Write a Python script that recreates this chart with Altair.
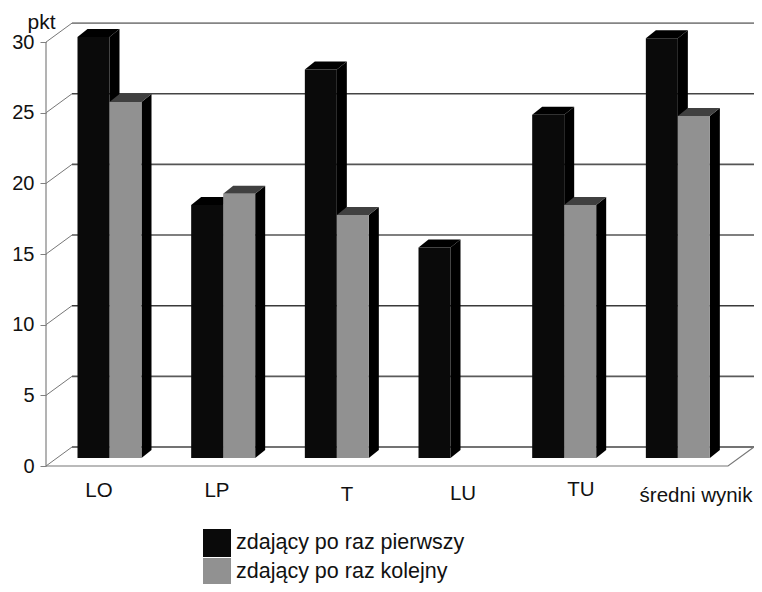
import altair as alt
import pandas as pd

categories = ["LO", "LP", "T", "LU", "TU", "średni wynik"]
first_time = [29.8, 17.9, 27.5, 14.9, 24.3, 29.7]
next_time = [25.2, 18.7, 17.2, None, 17.9, 24.2]
y_ticks = [0, 5, 10, 15, 20, 25, 30]
series_names = ["zdający po raz pierwszy", "zdający po raz kolejny"]

# projection of the pseudo-3D scene, in data units
PX_X, PX_Y = 113.67, 14.13          # pixels per category / per point
X0, Y0 = 46, 466                    # page position of the front corner
PAD_L = X0 - 8
W, H = 746 - PAD_L, 576             # plot area; padding + width fills the page
BAR_W = 32 / PX_X
BAR_DX, BAR_DY = 10 / PX_X, 8 / PX_Y
WALL_DX, WALL_DY = 26 / PX_X, 19 / PX_Y
GROUP_C = 63.5 / PX_X
x_scale = alt.Scale(domain=[0, W / PX_X], nice=False, zero=False)
y_scale = alt.Scale(domain=[(Y0 - 8 - H) / PX_Y, (Y0 - 8) / PX_Y], nice=False, zero=False)
y_axis = alt.Axis(
    values=y_ticks, domain=False, grid=False, tickSize=6, tickColor="#808080",
    labelFont="Liberation Sans", labelFontSize=20, labelColor="#111111", labelPadding=6,
    title="pkt", titleAngle=0, titleX=-5, titleY=14, titleAlign="center", titleBaseline="middle",
    titleFont="Liberation Sans", titleFontSize=21, titleFontWeight="normal", titleColor="#111111")

X = lambda f: alt.X(f, type="quantitative", scale=x_scale, axis=None)
Y = lambda f: alt.Y(f, type="quantitative", scale=y_scale, axis=y_axis)

fronts, sides, tops = [], [], []
for s, (name, vals) in enumerate(zip(series_names, [first_time, next_time])):
    for i, v in enumerate(vals):
        if v is None:
            continue
        x1 = i + GROUP_C + (s - 1) * BAR_W
        x2 = x1 + BAR_W
        base, top = BAR_DY, v + BAR_DY
        key = f"{s}-{i}"
        fronts.append(dict(series=name, x1=x1, x2=x2, y1=base, y2=top, s=s))
        sides += [
            dict(key=key, s=s, x=x2, y=top, y2=base),
            dict(key=key, s=s, x=x2 + BAR_DX, y=top + BAR_DY, y2=base + BAR_DY),
        ]
        tops += [
            dict(key=key, s=s, y=top, x=x1, x2=x2),
            dict(key=key, s=s, y=top + BAR_DY, x=x1 + BAR_DX, x2=x2 + BAR_DX),
        ]
fronts, sides, tops = pd.DataFrame(fronts), pd.DataFrame(sides), pd.DataFrame(tops)

grid = pd.DataFrame({"v": y_ticks})
grid["yb"] = grid.v + WALL_DY
grid["xa"] = WALL_DX
grid["xb"] = 6 + WALL_DX
grid["x0"] = 0.0
grid["col"] = ["#444444", "#5a5a5a", "#3a3a3a", "#555555", "#555555", "#444444", "#858585"]

front_axis = alt.Chart(grid).mark_rule(strokeWidth=1, color="#777777").encode(
    x=X("x0"), x2="xa", y=Y("v"), y2="yb")
back = alt.Chart(grid).mark_rule(strokeWidth=1.6).encode(
    x=X("xa"), x2="xb", y=Y("yb"), color=alt.Color("col:N", scale=None))

axis_line = alt.Chart(pd.DataFrame({"x": [0.0], "a": [0], "b": [30]})).mark_rule(
    color="#808080", strokeWidth=1.2).encode(x=X("x"), y=Y("a"), y2="b")
floor = pd.DataFrame({"x": [0.0, 6.0, 6 + WALL_DX], "y": [0.0, 0.0, WALL_DY]})
floor_line = alt.Chart(floor).mark_line(color="#777777", strokeWidth=1.2).encode(
    x=X("x"), y=Y("y"))

layers = [front_axis, back, axis_line, floor_line]
FRONT = ["#0a0a0a", "#919191"]
TOP = ["#000000", "#404040"]
for s in [0, 1]:
    layers.append(alt.Chart(sides[sides.s == s]).mark_area(color="#000000").encode(
        x=X("x"), y=Y("y"), y2="y2", detail="key:N"))
    layers.append(alt.Chart(tops[tops.s == s]).mark_area(color=TOP[s], orient="horizontal").encode(
        y=Y("y"), x=X("x"), x2="x2", detail="key:N"))
    layers.append(alt.Chart(fronts[fronts.s == s]).mark_rect().encode(
        x=X("x1"), x2="x2", y=Y("y1"), y2="y2",
        color=alt.Color("series:N", scale=alt.Scale(domain=series_names, range=FRONT), legend=alt.Legend(
            title=None, orient="none", legendX=157, legendY=521, padding=0, symbolType="square",
            symbolSize=784, symbolStrokeWidth=0, symbolOpacity=1, rowPadding=1, labelOffset=5, labelLimit=400,
            labelFont="Liberation Sans", labelFontSize=21.5, labelColor="#111111"))))

label_x = [(p - X0) / PX_X for p in [99, 217, 347, 463, 581, 696]]
label_y = [(Y0 - p) / PX_Y for p in [491, 491, 495, 494, 490, 496]]
labels = pd.DataFrame({"t": categories, "x": label_x, "y": label_y})
layers.append(alt.Chart(labels).mark_text(font="Liberation Sans", fontSize=20.5, color="#111111", baseline="middle").encode(
    x=X("x"), y=Y("y"), text="t:N"))

chart = alt.layer(*layers).properties(
    width=W, height=H, padding={"left": PAD_L, "top": 0, "right": 0, "bottom": 0},
    background="white", autosize=alt.AutoSizeParams(type="none")
).configure_view(stroke=None)
chart.save("out.html", embed_options={"renderer": "svg", "actions": False})
